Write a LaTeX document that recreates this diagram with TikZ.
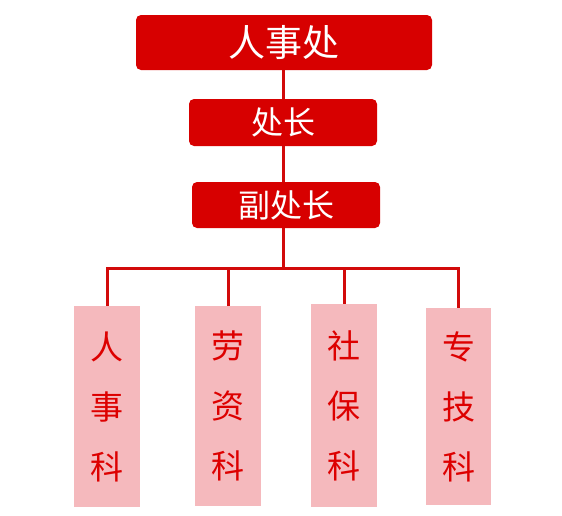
\documentclass[tikz,border=0pt]{standalone}
\usepackage{fontspec}
\newfontfamily\cjk{Noto Sans CJK SC}
\definecolor{boxred}{HTML}{D70000}
\definecolor{linered}{HTML}{D20A0A}
\definecolor{pinkbox}{HTML}{F5B9BD}
\definecolor{txtred}{HTML}{DD0000}
\tikzset{
  headbox/.style={fill=boxred, draw=none, rounded corners=5pt, inner sep=0pt, text=white, font=\cjk},
  deptbox/.style={fill=pinkbox, draw=none, inner sep=0pt, text=txtred, align=center,
    font=\cjk\fontsize{33}{60}\selectfont},
  conn/.style={draw=linered, line width=3pt}
}
\begin{document}
\begin{tikzpicture}[x=1pt,y=-1pt]
\useasboundingbox (0,0) rectangle (562,515);
\node[headbox, minimum width=296pt, minimum height=55pt, font=\cjk\fontsize{37}{40}\selectfont] (top) at (284,42.5) {人事处};
\node[headbox, minimum width=188pt, minimum height=47pt, font=\cjk\fontsize{32}{36}\selectfont] (chief) at (283,122.5) {处长};
\node[headbox, minimum width=188pt, minimum height=46pt, font=\cjk\fontsize{32}{36}\selectfont] (deputy) at (286,205) {副处长};
\node[deptbox, minimum width=66pt, minimum height=201pt] (k1) at (107,406.5) {人\\事\\科};
\node[deptbox, minimum width=66pt, minimum height=200pt] (k2) at (228,406) {劳\\资\\科};
\node[deptbox, minimum width=66pt, minimum height=203pt] (k3) at (344,405.5) {社\\保\\科};
\node[deptbox, minimum width=65pt, minimum height=197pt] (k4) at (458.5,406.5) {专\\技\\科};
\coordinate (bar) at (283,268);
\draw[conn] (top.south -| bar) -- (chief.north -| bar);
\draw[conn] (chief.south -| bar) -- (deputy.north -| bar);
\draw[conn] (deputy.south -| bar) -- (bar);
\draw[conn] (k1.north) |- (bar);
\draw[conn] (k2.north) |- (bar);
\draw[conn] (k3.north) |- (bar);
\draw[conn] (k4.north) |- (bar);
\end{tikzpicture}
\end{document}
